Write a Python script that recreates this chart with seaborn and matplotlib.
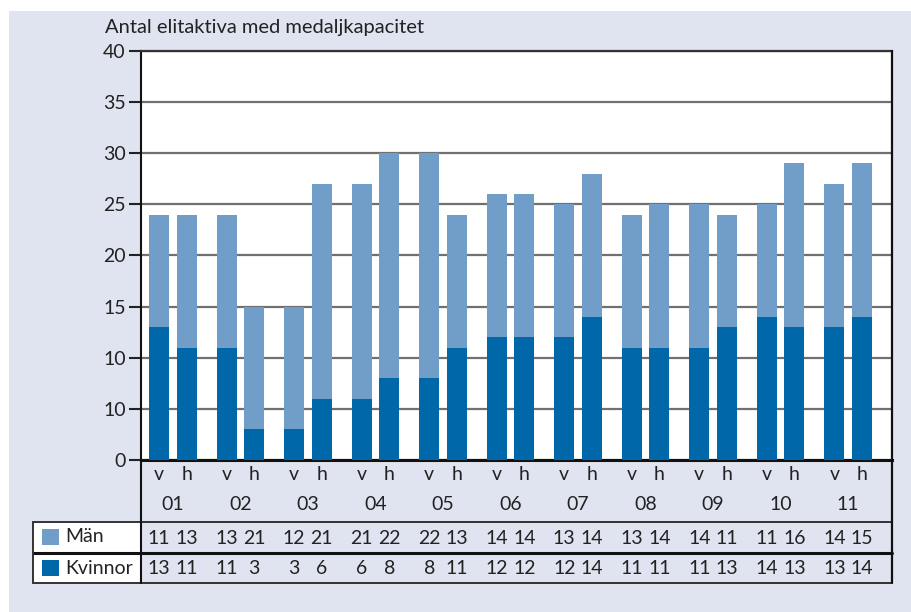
import numpy as np
import pandas as pd
import matplotlib
matplotlib.use("Agg")
import matplotlib.pyplot as plt
import matplotlib.transforms as mtransforms
from matplotlib.patches import Rectangle
import seaborn as sns

# Data (v = vår, h = höst)
years = ['01', '02', '03', '04', '05', '06', '07', '08', '09', '10', '11']
halves = ['v', 'h']
man = [11, 13, 13, 12, 12, 21, 21, 22, 22, 13, 14, 14, 13, 14, 13, 14, 14, 11, 11, 16, 14, 15]
kvinnor = [13, 11, 11, 3, 3, 6, 6, 8, 8, 11, 12, 12, 12, 14, 11, 11, 11, 13, 14, 13, 13, 14]
# table text as printed (02 h reads 21 in the table)
man_table = ['11', '13', '13', '21', '12', '21', '21', '22', '22', '13', '14', '14',
             '13', '14', '13', '14', '14', '11', '11', '16', '14', '15']
kvinnor_table = [str(v) for v in kvinnor]
ytick_labels = ['0', '10', '10', '15', '20', '25', '30', '35', '40']

light = '#709EC9'
dark = '#0068A8'
bg = '#DFE4F0'

sns.set_style('white')
plt.rcParams['font.family'] = ['Lato', 'DejaVu Sans']
fs = 14

# bar positions: pairs within a year, small gap between years
group_step = 2.45
pos = np.array([g * group_step + k for g in range(len(years)) for k in range(2)])
df = pd.DataFrame({'pos': pos, 'total': np.array(man) + np.array(kvinnor), 'kvinnor': kvinnor})

fig = plt.figure(figsize=(9.12, 6.12), dpi=100, facecolor='white')
fig.patches.append(Rectangle((9 / 912, 0), 1, 1 - 11 / 612, transform=fig.transFigure,
                             facecolor=bg, edgecolor='none', zorder=-10))

ax = fig.add_axes([141 / 912, 1 - 460 / 612, 751 / 912, 409 / 612])
ax.set_facecolor('white')

sns.barplot(data=df, x='pos', y='total', native_scale=True, color=light, saturation=1,
            width=0.727, errorbar=None, linewidth=0, ax=ax, zorder=3)
sns.barplot(data=df, x='pos', y='kvinnor', native_scale=True, color=dark, saturation=1,
            width=0.727, errorbar=None, linewidth=0, ax=ax, zorder=4)

ax.set_xlim(-0.655, pos[-1] + 1.09)
ax.set_ylim(0, 40)
ax.set_yticks(np.arange(0, 41, 5))
ax.set_yticklabels(ytick_labels)
ax.set_xticks([])
ax.set_xlabel('')
ax.set_ylabel('')
ax.tick_params(axis='y', length=9, width=1.5, color='#222222', labelsize=fs, pad=2,
               left=True, labelcolor='#222222')
ax.yaxis.grid(True, color='#707070', linewidth=1.6, zorder=1)
ax.set_axisbelow(True)
for side in ['left', 'right', 'top', 'bottom']:
    ax.spines[side].set_visible(True)
ax.spines['left'].set_color('#111111')
ax.spines['left'].set_linewidth(1.5)
ax.spines['top'].set_color('#333333')
ax.spines['top'].set_linewidth(1.6)
ax.spines['bottom'].set_color('#111111')
ax.spines['bottom'].set_linewidth(2.2)
ax.spines['right'].set_visible(False)

fig.text(105 / 912, 1 - 28 / 612, 'Antal elitaktiva med medaljkapacitet', fontsize=fs + 0.5,
         color='#222222', ha='left', va='center')

# table below the axis
def ay(px):
    return (460 - px) / 409

def axx(px):
    return (px - 141) / 751

blend = mtransforms.blended_transform_factory(ax.transData, ax.transAxes)
tx = ax.transAxes

for i, p in enumerate(pos):
    ax.text(p, ay(475), halves[i % 2], transform=blend, ha='center', va='center',
            fontsize=fs, color='#222222', clip_on=False)
    ax.text(p, ay(538), man_table[i], transform=blend, ha='center', va='center',
            fontsize=fs, color='#222222', clip_on=False)
    ax.text(p, ay(569), kvinnor_table[i], transform=blend, ha='center', va='center',
            fontsize=fs, color='#222222', clip_on=False)
for g, yr in enumerate(years):
    ax.text(g * group_step + 0.5, ay(504), yr, transform=blend, ha='center', va='center',
            fontsize=fs, color='#222222', clip_on=False)

# legend cells
ax.add_patch(Rectangle((axx(33), ay(583)), axx(141) - axx(33), ay(522) - ay(583),
                       transform=tx, facecolor='white', edgecolor='none', clip_on=False, zorder=0))
for y0, col, lab in [(ay(545), light, 'Män'), (ay(576), dark, 'Kvinnor')]:
    ax.add_patch(Rectangle((axx(42), y0), axx(59) - axx(42), ay(529) - ay(545),
                           transform=tx, facecolor=col, edgecolor='none', clip_on=False))
    ax.text(axx(65), y0 + (ay(529) - ay(545)) / 2, lab, transform=tx, ha='left', va='center',
            fontsize=fs, color='#222222', clip_on=False)

# grid lines of the table
lines = [
    ((axx(33), axx(892)), (ay(522), ay(522)), '#333333', 1.4),
    ((axx(33), axx(892)), (ay(553), ay(553)), '#111111', 2.2),
    ((axx(33), axx(892)), (ay(583), ay(583)), '#333333', 1.4),
    ((axx(33), axx(33)), (ay(522), ay(583)), '#333333', 1.4),
    ((0, 0), (0, ay(583)), '#111111', 1.5),
    ((axx(892), axx(892)), (1, ay(583)), '#111111', 1.6),
]
for xs, ys, c, lw in lines:
    ax.plot(xs, ys, transform=tx, color=c, linewidth=lw, clip_on=False, zorder=5)

fig.savefig('out.png', dpi=100, facecolor=fig.get_facecolor())
